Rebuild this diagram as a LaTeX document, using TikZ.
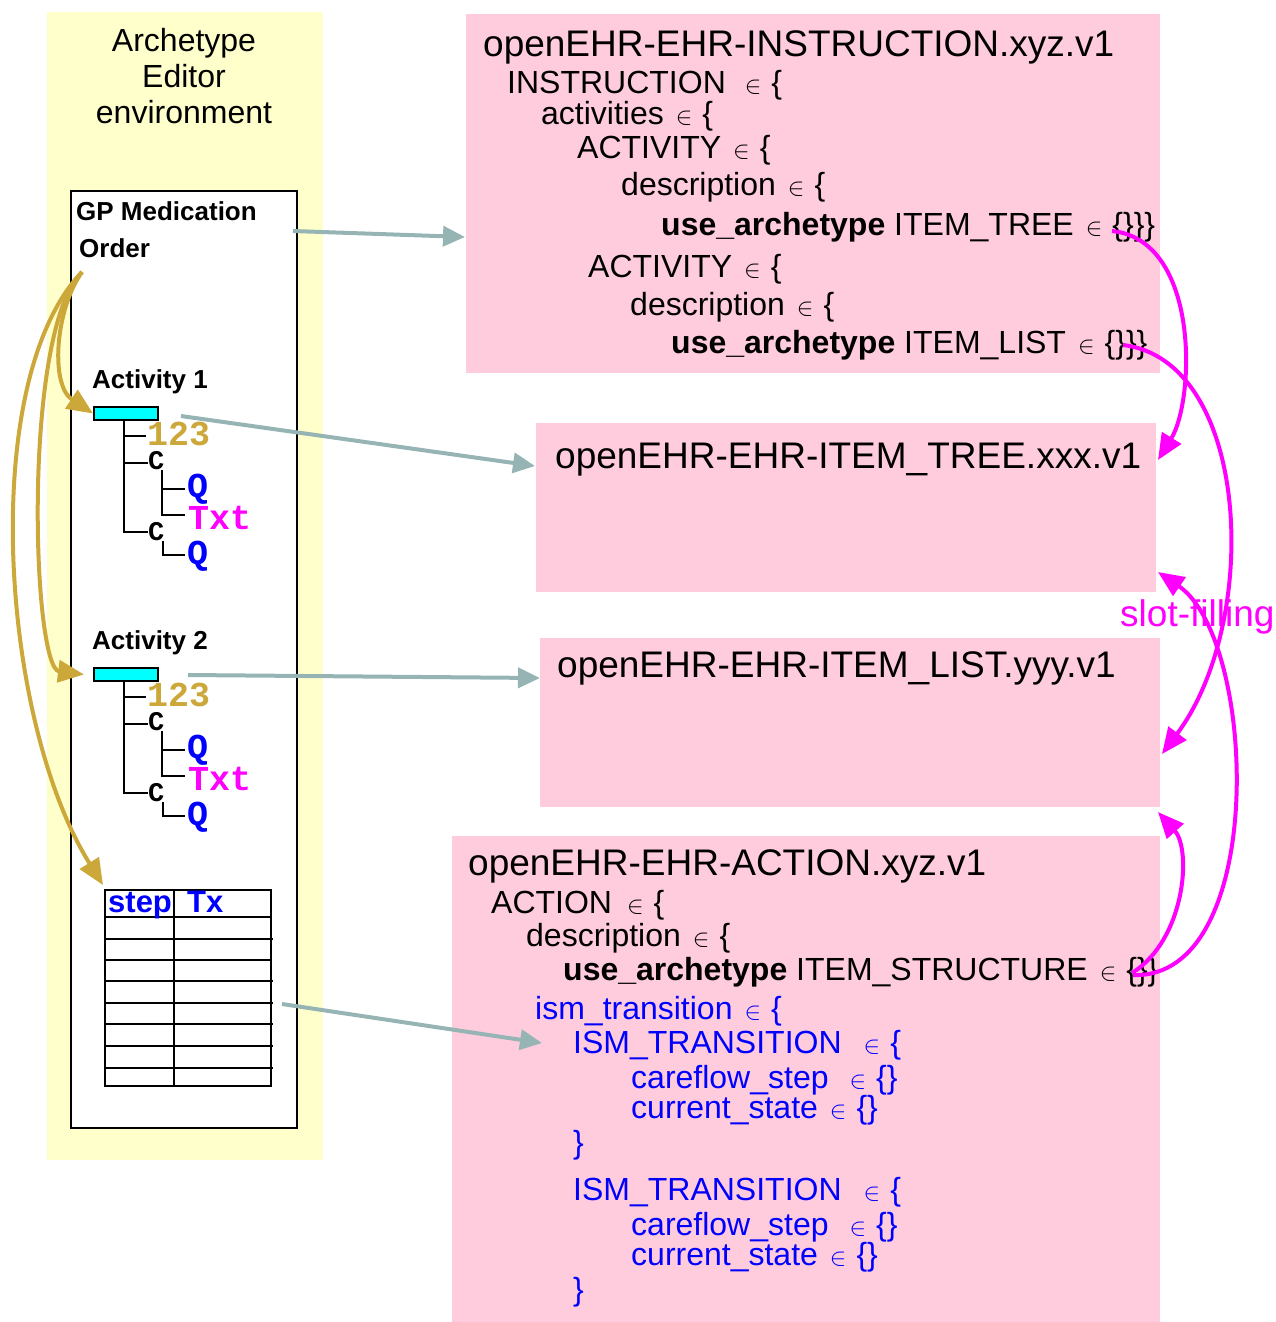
\documentclass[tikz,border=0pt]{standalone}
\usepackage{fontspec}
\setmainfont{Liberation Sans}
\newfontfamily\monof{Liberation Mono}
\usetikzlibrary{arrows.meta}
\definecolor{ylw}{RGB}{255,255,204}
\definecolor{pnk}{RGB}{255,204,221}
\definecolor{gry}{RGB}{150,180,180}
\definecolor{gld}{RGB}{204,168,58}
\definecolor{mag}{RGB}{255,0,255}
\definecolor{cyn}{RGB}{0,255,255}
\definecolor{blu}{RGB}{0,0,255}
\newcommand{\elt}[1][12pt]{\hspace{#1}{\fontsize{24}{24}\selectfont$\in$}\hspace{10pt}}
\newcommand{\acttree}[2]{%
\begin{scope}[shift={(0,#1)}]
\node[lbl] (act#2) at (92,388) {Activity #2};
\node[cbar] (bar#2) at (93,406) {};
\draw[treeline] (124,419) -- (124,532) -- (148,532);
\draw[treeline] (124,436) -- (146,436);
\draw[treeline] (124,463) -- (148,463);
\draw[treeline] (162,470) -- (162,515) -- (185,515);
\draw[treeline] (162,489) -- (185,489);
\draw[treeline] (163,541) -- (163,555) -- (185,555);
\node[mono, text=gld] (num#2) at (147,445) {123};
\node[monos] (cla#2) at (148,469) {C};
\node[mono, text=blu] (qa#2) at (187,497) {Q};
\node[mono, text=mag] (txt#2) at (188,529) {Txt};
\node[monos] (clb#2) at (148,540) {C};
\node[mono, text=blu] (qb#2) at (187,564) {Q};
\end{scope}}
\tikzset{
  pinkbox/.style={fill=pnk, draw=none, anchor=north west, inner sep=0pt},
  title/.style={anchor=base west, inner sep=0pt, font=\fontsize{37}{40}\selectfont},
  code/.style={anchor=base west, inner sep=0pt, font=\fontsize{32}{36}\selectfont},
  bluecode/.style={code, text=blu},
  lbl/.style={anchor=base west, inner sep=0pt, font=\bfseries\fontsize{26}{30}\selectfont},
  mono/.style={anchor=base west, inner sep=0pt, text height=21pt, text depth=0pt, font=\monof\bfseries\fontsize{35}{35}\selectfont},
  monos/.style={anchor=base west, inner sep=0pt, text height=15pt, text depth=0pt, font=\monof\bfseries\fontsize{27}{27}\selectfont},
  cbar/.style={draw=black, line width=2pt, fill=cyn, anchor=north west, minimum width=64pt, minimum height=13pt, inner sep=0pt},
  treeline/.style={line width=2.5pt, black},
  tline/.style={line width=2pt, black},
  grayarrow/.style={draw=gry, line width=4pt, -{Triangle[length=22pt,width=20pt]}},
  goldarrow/.style={draw=gld, line width=4pt, -{Triangle[length=26pt,width=22pt]}},
  magarrow/.style={draw=mag, line width=4pt, -{Triangle[length=26pt,width=22pt]}},
}
\begin{document}
\begin{tikzpicture}[x=1pt,y=-1pt]
\useasboundingbox (0,0) rectangle (1276,1322);
% left environment
\node[fill=ylw, anchor=north west, inner sep=0pt, minimum width=276pt, minimum height=1148pt] (env) at (47,12) {};
\node[anchor=base, inner sep=0pt, font=\fontsize{32}{36}\selectfont] (envt1) at (184,52) {Archetype};
\node[anchor=base, inner sep=0pt, font=\fontsize{32}{36}\selectfont] (envt2) at (184,88) {Editor};
\node[anchor=base, inner sep=0pt, font=\fontsize{32}{36}\selectfont] (envt3) at (184,123) {environment};
\node[draw=black, line width=2pt, fill=white, anchor=north west, inner sep=0pt, minimum width=226pt, minimum height=937pt] (editor) at (70,190) {};
\node[lbl] (gp1) at (76,220) {GP Medication};
\node[lbl] (gp2) at (79,257) {Order};
\acttree{0}{1}
\acttree{261}{2}
% table
\node[draw=black, line width=2pt, anchor=north west, inner sep=0pt, minimum width=166pt, minimum height=196pt] (tbl) at (104,889) {};
\draw[tline] (174,889) -- (174,1085);
\draw[tline] (104,917) -- (270,917);
\draw[tline] (104,939) -- (273,939);
\draw[tline] (104,960) -- (270,960);
\draw[tline] (104,981) -- (273,981);
\draw[tline] (104,1003) -- (273,1003);
\draw[tline] (104,1024) -- (273,1024);
\draw[tline] (104,1046) -- (273,1046);
\draw[tline] (104,1068) -- (273,1068);
\node[anchor=base west, inner sep=0pt, text=blu, font=\bfseries\fontsize{31}{31}\selectfont] (tstep) at (108,912) {step};
\node[anchor=base west, inner sep=0pt, text=blu, font=\bfseries\fontsize{31}{31}\selectfont] (ttx) at (187,912) {Tx};
% pink boxes
\node[pinkbox, minimum width=694pt, minimum height=359pt] (instr) at (466,14) {};
\node[pinkbox, minimum width=620pt, minimum height=169pt] (tree) at (536,423) {};
\node[pinkbox, minimum width=620pt, minimum height=169pt] (list) at (540,638) {};
\node[pinkbox, minimum width=708pt, minimum height=486pt] (action) at (452,836) {};
% instruction text
\node[title] (i0) at (483,57) {openEHR-EHR-INSTRUCTION.xyz.v1};
\node[code] (i1) at (507,93) {INSTRUCTION\elt[19pt]\{};
\node[code] (i2) at (541,124) {activities\elt\{};
\node[code] (i3) at (577,158) {ACTIVITY\elt\{};
\node[code] (i4) at (621,195) {description\elt\{};
\node[code] (i5) at (661,235) {\textbf{use\_archetype} ITEM\_TREE\elt\{\}\}\}};
\node[code] (i6) at (588,277) {ACTIVITY\elt\{};
\node[code] (i7) at (630,315) {description\elt\{};
\node[code] (i8) at (671,353) {\textbf{use\_archetype} ITEM\_LIST\elt\{\}\}\}};
% item tree / list
\node[title] (t0) at (555,468) {openEHR-EHR-ITEM\_TREE.xxx.v1};
\node[title] (l0) at (557,677) {openEHR-EHR-ITEM\_LIST.yyy.v1};
% action text
\node[title] (a0) at (468,875) {openEHR-EHR-ACTION.xyz.v1};
\node[code] (a1) at (491,913) {ACTION\elt[15pt]\{};
\node[code] (a2) at (526,946) {description\elt\{};
\node[code] (a3) at (563,980) {\textbf{use\_archetype} ITEM\_STRUCTURE\elt\{\}\}};
\node[bluecode] (a4) at (535,1019) {ism\_transition\elt\{};
\node[bluecode] (a5) at (573,1053) {ISM\_TRANSITION\elt[22pt]\{};
\node[bluecode] (a6) at (631,1088) {careflow\_step\elt[21pt]\{\}};
\node[bluecode] (a7) at (631,1118) {current\_state\elt\{\}};
\node[bluecode] (a8) at (573,1153) {\}};
\node[bluecode] (a9) at (573,1200) {ISM\_TRANSITION\elt[22pt]\{};
\node[bluecode] (a10) at (631,1235) {careflow\_step\elt[21pt]\{\}};
\node[bluecode] (a11) at (631,1265) {current\_state\elt\{\}};
\node[bluecode] (a12) at (573,1300) {\}};
% slot-filling label
\node[anchor=base west, inner sep=0pt, text=mag, font=\fontsize{37}{40}\selectfont] (slot) at (1120,626) {slot-filling};
% gray arrows
\coordinate (g1s) at (293,231); \coordinate (g1e) at (465,237);
\coordinate (g2s) at (181,416); \coordinate (g2e) at (535,466);
\coordinate (g3s) at (188,675); \coordinate (g3e) at (540,678);
\coordinate (g4s) at (282,1004); \coordinate (g4e) at (542,1043);
\draw[grayarrow] (g1s) -- (g1e);
\draw[grayarrow] (g2s) -- (g2e);
\draw[grayarrow] (g3s) -- (g3e);
\draw[grayarrow] (g4s) -- (g4e);
% gold arrows
\coordinate (ordr) at (82,272);
\draw[goldarrow] (ordr) .. controls (55,310) and (50,385) .. (bar1.west);
\draw[goldarrow] (ordr) .. controls (22,330) and (32,668) .. ([xshift=-9pt]bar2.west);
\draw[goldarrow] (ordr) .. controls (-22,380) and (0,720) .. ([xshift=-1pt,yshift=4pt]tbl.north west);
% magenta arrows
\coordinate (m1s) at (1112,231); \coordinate (m1e) at (1158,460);
\coordinate (m2s) at (1123,345); \coordinate (m2e) at (1162,754);
\coordinate (m3s) at (1132,973); \coordinate (m3e) at (1158,812);
\coordinate (m4s) at (1133,975); \coordinate (m4e) at (1158,572);
\draw[magarrow] (m1s) .. controls (1200,240) and (1195,400) .. (m1e);
\draw[magarrow] (m2s) .. controls (1250,360) and (1262,620) .. (m2e);
\draw[magarrow] (m3s) .. controls (1185,940) and (1192,850) .. (m3e);
\draw[magarrow] (m4s) .. controls (1268,980) and (1258,640) .. (m4e);
\end{tikzpicture}
\end{document}
